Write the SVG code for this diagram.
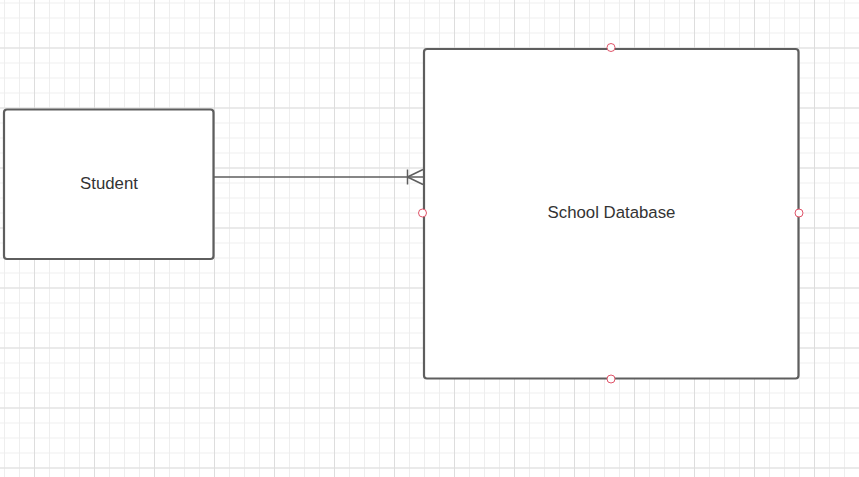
<svg xmlns="http://www.w3.org/2000/svg" width="859" height="477" viewBox="0 0 859 477">
  <style>
    .node { fill: #ffffff; stroke: #5e5e5e; stroke-width: 2.2; }
    .label { font-family: "Liberation Sans", Arial, sans-serif; font-size: 16.8px; fill: #333333; text-anchor: middle; }
    .conn { fill: none; stroke: #5e5e5e; stroke-width: 1.5; }
    .handle { fill: #ffffff; stroke: #e0556a; stroke-width: 1; }
  </style>
  <defs>
    <pattern id="minor" patternUnits="userSpaceOnUse" x="4" y="2.5" width="15" height="15">
      <path d="M0.5 0 V15 M0 0.5 H15" stroke="#eeeeee" stroke-width="1" fill="none"/>
    </pattern>
    <pattern id="major" patternUnits="userSpaceOnUse" x="34" y="47.5" width="60" height="60">
      <path d="M0.5 0 V60 M0 0.5 H60" stroke="#dddddd" stroke-width="1" fill="none"/>
    </pattern>
  </defs>
  <rect width="859" height="477" fill="#ffffff"/>
  <rect width="859" height="477" fill="url(#minor)"/>
  <rect width="859" height="477" fill="url(#major)"/>

  <g id="connectors">
    <path class="conn" d="M214 177 H423"/>
    <path class="conn" d="M407.5 169.5 V184.5 M407.5 177 L423 169.5 M407.5 177 L423 184.5"/>
  </g>

  <g id="student">
    <rect class="node" x="4" y="109.5" width="209.5" height="149.5" rx="3"/>
    <text class="label" x="109" y="189">Student</text>
  </g>

  <g id="school-database">
    <rect class="node" x="424" y="49" width="374.5" height="329.5" rx="3"/>
    <text class="label" x="611.5" y="218">School Database</text>
    <circle class="handle" cx="611" cy="47.5" r="4"/>
    <circle class="handle" cx="422.5" cy="213" r="4"/>
    <circle class="handle" cx="799" cy="213" r="4"/>
    <circle class="handle" cx="611" cy="379" r="4"/>
  </g>
</svg>
